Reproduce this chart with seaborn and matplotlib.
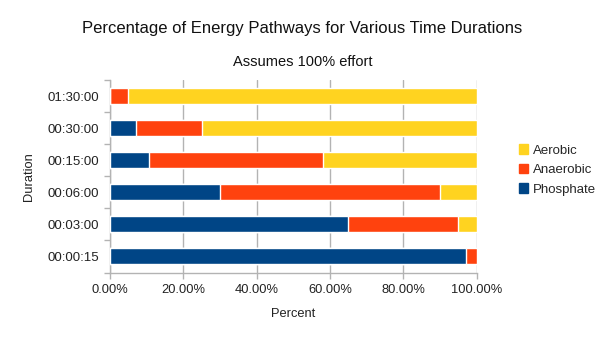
import matplotlib
matplotlib.use("Agg")
import matplotlib.pyplot as plt
import matplotlib.patches as mpatches
from matplotlib.ticker import PercentFormatter, FixedLocator
import seaborn as sns
import pandas as pd
import numpy as np

durations = ["01:30:00", "00:30:00", "00:15:00", "00:06:00", "00:03:00", "00:00:15"]
phosphate = [0, 7, 10.5, 30, 65, 97]
anaerobic = [5, 18, 47.5, 60, 30, 3]
aerobic = [95, 75, 42, 10, 5, 0]

series_names = ["Aerobic", "Anaerobic", "Phosphate"]
colors = {"Aerobic": "#ffd320", "Anaerobic": "#ff420e", "Phosphate": "#004586"}

sns.set_theme(style="white")
plt.rcParams["font.family"] = ["Liberation Sans", "DejaVu Sans"]

df = pd.DataFrame({"Duration": durations, "Phosphate": phosphate,
                   "Anaerobic": anaerobic, "Aerobic": aerobic})
df["cum_ph"] = df["Phosphate"]
df["cum_an"] = df["Phosphate"] + df["Anaerobic"]
df["cum_ae"] = df["cum_an"] + df["Aerobic"]

fig = plt.figure(figsize=(6.05, 3.4), dpi=100)
ax = fig.add_axes([110 / 605, 1 - 272.5 / 340, 366.7 / 605, 192.5 / 340])

for col, name in [("cum_ae", "Aerobic"), ("cum_an", "Anaerobic"), ("cum_ph", "Phosphate")]:
    sns.barplot(data=df, x=col, y="Duration", order=durations, orient="h",
                color=colors[name], width=0.5, saturation=1, ax=ax, zorder=3)

ax.set_xlim(0, 100)
ax.set_ylim(len(durations) - 0.5, -0.5)
ax.xaxis.set_major_locator(FixedLocator([0, 20, 40, 60, 80, 100]))
ax.xaxis.set_major_formatter(PercentFormatter(100, decimals=2))
ax.grid(axis="x", color="#b3b3b3", linewidth=1, zorder=0)
ax.grid(axis="y", visible=False)

for s in ["top", "right"]:
    ax.spines[s].set_visible(False)
for s in ["left", "bottom"]:
    ax.spines[s].set_color("#b3b3b3")
    ax.spines[s].set_linewidth(1)

ax.tick_params(axis="x", which="major", length=4, color="#b3b3b3", width=1,
               labelsize=9.3, labelcolor="#222222", pad=4, direction="out", bottom=True)
ax.tick_params(axis="y", which="major", length=0, labelsize=9.5, labelcolor="#222222", pad=8)
ax.yaxis.set_minor_locator(FixedLocator(np.arange(-0.5, len(durations), 1.0)))
ax.tick_params(axis="y", which="minor", length=4, color="#b3b3b3", width=1, left=True)

ax.set_xlabel("Percent", fontsize=9.3, color="#222222", labelpad=9)
ax.set_ylabel("Duration", fontsize=9.3, color="#222222", labelpad=9)

fig.text(0.5, 1 - 28.5 / 340, "Percentage of Energy Pathways for Various Time Durations",
         ha="center", va="center", fontsize=12, color="#111111")
fig.text(0.5, 1 - 62 / 340, "Assumes 100% effort", ha="center", va="center",
         fontsize=10.5, color="#111111")

handles = [mpatches.Patch(color=colors[n], label=n) for n in series_names]
leg = fig.legend(handles=handles, loc="center left", bbox_to_anchor=(512 / 605, 1 - 170 / 340),
                 frameon=False, fontsize=9.5, handlelength=0.7, handleheight=0.7,
                 handletextpad=0.4, labelspacing=0.55, borderpad=0)

fig.savefig("out.png", dpi=100)
